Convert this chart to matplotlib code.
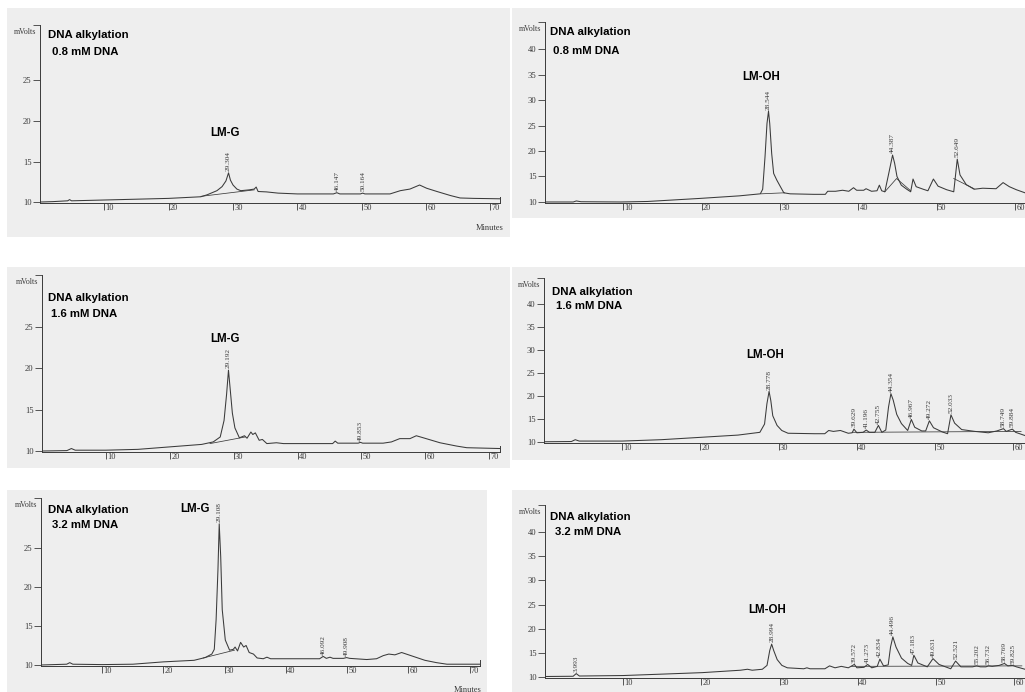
import numpy as np
import matplotlib
matplotlib.use("Agg")
import matplotlib.pyplot as plt
from matplotlib.patches import Rectangle

# chromatogram traces as (minutes, mVolts)
g08_trace = [
    (0, 10.0), (2, 10.05), (4.3, 10.15), (4.6, 10.3), (4.9, 10.15), (10, 10.25),
    (15, 10.35), (20, 10.45), (25, 10.65), (26, 10.9), (27.5, 11.4), (28.3, 11.9),
    (28.9, 12.6), (29.304, 13.6), (29.6, 12.7), (30.0, 12.1), (30.6, 11.6), (31.2, 11.4),
    (32.5, 11.5), (33.3, 11.6), (33.6, 11.85), (33.9, 11.3), (35.2, 11.25), (37, 11.1),
    (40, 11.0), (45.6, 11.0), (46.147, 11.15), (46.6, 11.0), (49.8, 11.0), (50.164, 11.1),
    (50.5, 11.0), (54.4, 11.0), (56, 11.4), (57.5, 11.6), (59, 12.1), (60.1, 11.7),
    (61.7, 11.3), (63.8, 10.8), (65.3, 10.5), (67.4, 10.45), (71.5, 10.4),
]
g16_trace = [
    (0, 10.0), (3.9, 10.05), (4.6, 10.3), (5.2, 10.1), (10, 10.1), (15, 10.2),
    (20, 10.5), (25, 10.8), (26.8, 11.1), (27.9, 11.7), (28.5, 13.7), (28.9, 16.9),
    (29.192, 19.8), (29.45, 17.6), (29.8, 14.6), (30.2, 12.8), (30.9, 11.6), (31.7, 11.85),
    (32.1, 11.55), (32.7, 12.3), (33.0, 12.0), (33.4, 12.2), (34.0, 11.3), (34.5, 11.4),
    (35.2, 10.9), (36.7, 11.0), (37.8, 10.9), (40.4, 10.9), (45.5, 10.9), (45.9, 11.2),
    (46.3, 10.95), (49.5, 10.95), (49.853, 11.05), (50.2, 10.95), (53.4, 10.95), (54.7, 11.1),
    (56.0, 11.5), (57.6, 11.5), (58.6, 11.85), (59.7, 11.6), (62.3, 11.0), (64.9, 10.6),
    (66.5, 10.4), (71.7, 10.3),
]
g32_trace = [
    (0, 10.0), (4.2, 10.1), (4.7, 10.3), (5.2, 10.1), (10, 10.05), (15, 10.1),
    (20, 10.4), (25, 10.6), (26.8, 10.95), (27.9, 11.4), (28.3, 12.0), (28.6, 15.8),
    (28.9, 22.2), (29.108, 28.1), (29.35, 23.9), (29.6, 17.1), (30.1, 13.2), (30.8, 11.9),
    (31.4, 12.0), (31.7, 12.3), (32.1, 11.8), (32.6, 12.9), (33.1, 12.3), (33.5, 12.5),
    (34.0, 11.6), (34.7, 11.4), (35.3, 10.9), (36.3, 10.8), (36.9, 11.0), (37.5, 10.8),
    (39.6, 10.8), (45.5, 10.8), (46.092, 11.1), (46.6, 10.85), (47.2, 11.0), (47.7, 10.85),
    (49.4, 10.85), (49.908, 10.95), (50.4, 10.85), (53.2, 10.7), (54.8, 10.8), (55.9, 11.2),
    (56.8, 11.4), (57.8, 11.3), (58.9, 11.6), (60.8, 11.1), (62.7, 10.6), (64.6, 10.3),
    (66.3, 10.1), (71.7, 10.1),
]
oh08_trace = [
    (0, 10.0), (3.6, 10.0), (4.0, 10.2), (4.6, 10.05), (9.7, 10.0), (13.1, 10.1),
    (19.8, 10.7), (24.8, 11.2), (27.5, 11.6), (27.8, 12.5), (28.1, 18.9), (28.35, 25.4),
    (28.544, 27.8), (28.7, 25.4), (28.95, 19.5), (29.2, 15.6), (29.6, 14.3), (30.1, 12.9),
    (30.5, 11.8), (31.3, 11.6), (34.3, 11.5), (35.8, 11.5), (36.1, 12.1), (37.1, 12.1),
    (38.0, 12.3), (38.8, 12.1), (39.4, 12.8), (39.8, 12.3), (40.7, 12.3), (41.0, 12.6),
    (41.7, 12.1), (42.4, 12.2), (42.7, 13.3), (43.0, 12.2), (43.4, 12.0), (43.9, 15.6),
    (44.387, 19.2), (44.65, 17.6), (44.95, 15.0), (45.5, 13.3), (46.2, 12.5), (46.7, 12.0),
    (47.0, 14.5), (47.4, 13.0), (48.3, 12.5), (48.9, 12.2), (49.6, 14.5), (50.2, 13.1),
    (51.3, 12.4), (52.2, 12.0), (52.649, 18.4), (53.0, 15.3), (53.8, 13.4), (54.8, 12.5),
    (55.9, 12.7), (57.6, 12.6), (58.5, 13.8), (59.3, 13.0), (60.2, 12.4), (61.3, 11.8),
]
oh16_trace = [
    (0, 10.05), (3.5, 10.1), (4.0, 10.5), (4.5, 10.2), (10, 10.2), (15, 10.5),
    (19.9, 11.0), (24.8, 11.5), (27.6, 12.1), (28.2, 13.9), (28.5, 18.3), (28.778, 21.0),
    (29.0, 19.0), (29.25, 15.7), (29.8, 13.6), (30.4, 12.5), (31.2, 11.9), (34.6, 11.8),
    (35.9, 11.8), (36.4, 12.5), (37.0, 12.3), (37.9, 12.5), (38.9, 11.9), (39.4, 12.0),
    (39.629, 12.8), (40.0, 12.0), (40.8, 12.1), (41.196, 12.6), (41.6, 12.1), (42.3, 12.1),
    (42.755, 13.6), (43.2, 12.1), (43.7, 12.6), (44.05, 17.6), (44.354, 20.5), (44.65, 19.1),
    (45.1, 16.0), (45.7, 14.0), (46.5, 12.5), (46.967, 14.9), (47.4, 13.2), (48.3, 12.4),
    (48.8, 12.4), (49.272, 14.6), (49.8, 13.1), (50.9, 12.2), (51.6, 11.8), (52.033, 15.9),
    (52.5, 14.1), (53.4, 12.7), (55.1, 12.3), (56.8, 12.0), (57.9, 12.4), (58.749, 12.9),
    (59.1, 12.3), (59.884, 12.8), (60.3, 12.1), (61.5, 11.4),
]
oh32_trace = [
    (0, 10.1), (3.6, 10.15), (3.993, 10.7), (4.4, 10.2), (10, 10.3), (15.1, 10.6),
    (20.1, 10.9), (25.0, 11.4), (25.9, 11.6), (26.5, 11.4), (27.8, 11.6), (28.4, 12.4),
    (28.75, 15.5), (28.994, 16.8), (29.25, 15.5), (29.7, 13.6), (30.3, 12.4), (31.0, 11.9),
    (33.1, 11.7), (33.5, 11.9), (33.9, 11.7), (35.8, 11.7), (36.4, 12.3), (37.1, 11.9),
    (37.9, 12.2), (38.8, 11.9), (39.572, 12.6), (39.9, 11.9), (40.8, 12.0), (41.273, 12.6),
    (41.8, 11.9), (42.5, 12.2), (42.834, 13.7), (43.3, 12.3), (43.9, 12.5), (44.2, 16.2),
    (44.496, 18.3), (44.9, 16.2), (45.6, 13.9), (46.4, 12.8), (46.9, 12.4), (47.183, 14.5),
    (47.7, 12.9), (48.9, 12.1), (49.631, 13.8), (50.4, 12.6), (51.9, 11.7), (52.521, 13.3),
    (53.2, 12.1), (54.7, 12.1), (55.202, 12.3), (55.7, 12.1), (56.4, 12.1), (56.732, 12.3),
    (57.2, 12.2), (58.1, 12.4), (58.769, 12.8), (59.2, 12.3), (59.825, 12.4), (60.3, 12.1),
    (61.4, 11.6),
]

# integration baselines drawn under the peaks
g08_base = [[(25.0, 10.7), (33.3, 11.5)]]
g16_base = [[(26.3, 10.9), (31.8, 11.7)]]
g32_base = [[(26.5, 10.9), (31.6, 11.9)]]
oh08_base = [[(27.6, 11.6), (30.6, 11.8)],
             [(43.4, 12.0), (44.9, 14.6), (46.7, 12.2)],
             [(52.2, 14.6), (54.8, 12.6)]]
oh16_base = [[(39.4, 12.1), (61.0, 12.3)]]
oh32_base = [[(39.2, 12.2), (61.0, 12.3)]]

# retention times printed above the peaks
g08_peaks = [29.304, 46.147, 50.164]
g16_peaks = [29.192, 49.853]
g32_peaks = [29.108, 46.092, 49.908]
oh08_peaks = [28.544, 44.387, 52.649]
oh16_peaks = [28.778, 39.629, 41.196, 42.755, 44.354, 46.967, 49.272, 52.033, 58.749, 59.884]
oh32_peaks = [3.993, 28.994, 39.572, 41.273, 42.834, 44.496, 47.183, 49.631, 52.521,
              55.202, 56.732, 58.769, 59.825]

x_ticks_g = [10, 20, 30, 40, 50, 60, 70]
y_ticks_g = [10, 15, 20, 25]
x_ticks_oh = [10, 20, 30, 40, 50, 60]
y_ticks_oh = [10, 15, 20, 25, 30, 35, 40]

W, H = 1025, 692
INK = "#3a3a3a"
SANS = "Liberation Sans"
SERIF = "Liberation Serif"

fig = plt.figure(figsize=(W / 100, H / 100), dpi=100)
fig.patch.set_facecolor("white")


def fx(x):
    return x / W


def fy(y):
    return 1 - y / H


# scanned paper behind each chromatogram
for x0, y0, x1, y1 in [(7, 8, 510, 237), (512, 8, 1025, 218), (7, 267, 510, 468),
                       (512, 267, 1025, 460), (7, 490, 487, 692), (512, 490, 1025, 692)]:
    fig.add_artist(Rectangle((fx(x0), fy(y1)), (x1 - x0) / W, (y1 - y0) / H,
                             transform=fig.transFigure, facecolor="#eeeeee",
                             edgecolor="none", zorder=-5))


def panel(box, xlim, ylim, xticks, yticks, trace, bases, peaks,
          compound, comp_xy, conc, title_px, end_tick=False, minutes_px=None):
    x0, y0, x1, y1 = box
    ax = fig.add_axes([fx(x0), fy(y1), (x1 - x0) / W, (y1 - y0) / H])
    ax.patch.set_alpha(0)

    t, mv = np.array(trace).T
    ax.plot(t, mv, color=INK, lw=0.75, solid_joinstyle="round")
    for seg in bases:
        bt, bv = np.array(seg).T
        ax.plot(bt, bv, color=INK, lw=0.55)

    for p in peaks:
        v = np.interp(p, t, mv)
        ax.annotate(f"{p:.3f}", (p, v), xytext=(0, 1.2), textcoords="offset points",
                    rotation=90, ha="center", va="bottom", fontsize=5.2,
                    family=SERIF, color=INK)

    ax.set_xlim(xlim)
    ax.set_ylim(ylim)
    ax.spines["top"].set_visible(False)
    if end_tick:
        ax.spines["right"].set_bounds(ylim[0], ylim[0] + 0.035 * (ylim[1] - ylim[0]))
    else:
        ax.spines["right"].set_visible(False)
    for s in ["left", "bottom", "right"]:
        ax.spines[s].set_color(INK)
        ax.spines[s].set_linewidth(0.7)

    ax.set_yticks(yticks + [ylim[1]], labels=[str(v) for v in yticks] + [""],
                  fontfamily=SERIF, fontsize=6.2)
    ax.set_xticks(xticks)
    ax.tick_params(direction="out", length=5, width=0.6, pad=1, colors=INK)
    ax.tick_params(axis="x", labelbottom=False)
    for v in xticks:
        ax.annotate(str(v), (v, 0), xycoords=("data", "axes fraction"),
                    xytext=(1.0, -0.8), textcoords="offset points", ha="left", va="top",
                    fontsize=6.0, family=SERIF, color=INK)

    ax.text(comp_xy[0], comp_xy[1], compound, ha="center", va="center",
            fontsize=8.3, fontweight="bold", family=SANS, color="black")

    (tx1, ty1), (tx2, ty2) = title_px
    fig.text(fx(tx1), fy(ty1), "DNA alkylation", ha="left", va="center",
             fontsize=8.2, fontweight="bold", family=SANS)
    fig.text(fx(tx2), fy(ty2), conc, ha="left", va="center",
             fontsize=8.2, fontweight="bold", family=SANS)
    fig.text(fx(x0 - 4), fy(y0 + 7), "mVolts", ha="right", va="center",
             fontsize=5.8, family=SERIF, color=INK)
    if minutes_px is not None:
        fig.text(fx(minutes_px[0]), fy(minutes_px[1]), "Minutes", ha="center",
                 va="center", fontsize=6, family=SERIF, color=INK)
    return ax


panel((40, 25, 500, 203), (0, 71.5), (9.88, 31.85), x_ticks_g, y_ticks_g,
      g08_trace, g08_base, g08_peaks, "LM-G", (28.8, 18.5), "0.8 mM DNA",
      [(48, 35), (52, 52)], end_tick=True, minutes_px=(490, 228))
panel((545, 22, 1025, 203), (0, 61.3), (9.8, 45.3), x_ticks_oh, y_ticks_oh,
      oh08_trace, oh08_base, oh08_peaks, "LM-OH", (27.6, 34.5), "0.8 mM DNA",
      [(550, 32), (553, 51)])
panel((42, 275, 500, 452), (0, 71.7), (9.88, 31.33), x_ticks_g, y_ticks_g,
      g16_trace, g16_base, g16_peaks, "LM-G", (28.6, 23.6), "1.6 mM DNA",
      [(48, 298), (51, 314)], end_tick=True)
panel((544, 278, 1025, 443), (0, 61.5), (9.78, 45.65), x_ticks_oh, y_ticks_oh,
      oh16_trace, oh16_base, oh16_peaks, "LM-OH", (28.3, 28.9), "1.6 mM DNA",
      [(552, 292), (556, 306)])
panel((41, 498, 480, 666), (0, 71.7), (9.87, 31.41), x_ticks_g, y_ticks_g,
      g32_trace, g32_base, g32_peaks, "LM-G", (25.2, 30.0), "3.2 mM DNA",
      [(48, 510), (52, 525)], end_tick=True, minutes_px=(468, 690))
panel((545, 505, 1025, 678), (0, 61.4), (9.79, 45.6), x_ticks_oh, y_ticks_oh,
      oh32_trace, oh32_base, oh32_peaks, "LM-OH", (28.4, 23.9), "3.2 mM DNA",
      [(550, 517), (555, 532)])

fig.savefig("out.png", dpi=100)
